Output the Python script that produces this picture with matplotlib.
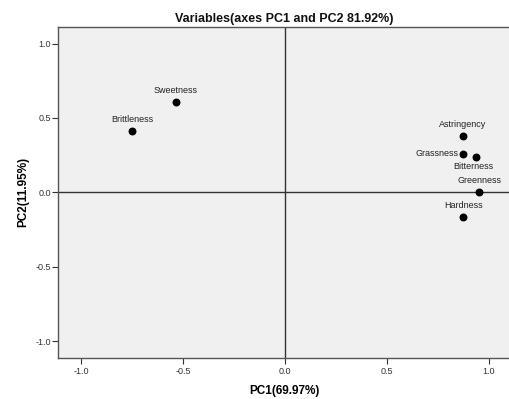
import matplotlib
matplotlib.use("Agg")
import matplotlib.pyplot as plt

plt.rcParams['font.family'] = ['Liberation Sans', 'DejaVu Sans']

# Cargas de las variables en PC1 y PC2
variables = ["Sweetness", "Brittleness", "Astringency", "Grassness",
             "Bitterness", "Greenness", "Hardness"]
pc1 = [-0.537, -0.750, 0.872, 0.872, 0.937, 0.952, 0.873]
pc2 = [0.605, 0.415, 0.379, 0.258, 0.240, 0.005, -0.166]

ticks = [-1.0, -0.5, 0.0, 0.5, 1.0]
tick_labels = ["-1.0", "-0.5", "0.0", "0.5", "1.0"]

fig = plt.figure(figsize=(5.09, 3.99), dpi=100)
fig.patch.set_facecolor('white')
ax = fig.add_axes([0.114, 0.1035, 0.89, 0.8285])
ax.set_facecolor('#f0f0f0')

ax.axhline(0, color='#333333', linewidth=1.0, zorder=1)
ax.axvline(0, color='#333333', linewidth=1.0, zorder=1)

ax.scatter(pc1, pc2, s=22, color='black', zorder=3)

# Posición de cada etiqueta respecto al punto (en puntos tipográficos)
offsets = {
    "Grassness": (-3, 0, 'right', 'center'),
    "Bitterness": (-2, -4, 'center', 'top'),
}
for nombre, x, y in zip(variables, pc1, pc2):
    dx, dy, ha, va = offsets.get(nombre, (0, 5, 'center', 'bottom'))
    ax.annotate(nombre, (x, y), xytext=(dx, dy), textcoords='offset points',
                ha=ha, va=va, fontsize=6.5, color='#222222')

ax.set_xlim(-1.113, 1.108)
ax.set_ylim(-1.11, 1.11)
ax.set_xticks(ticks)
ax.set_xticklabels(tick_labels)
ax.set_yticks(ticks)
ax.set_yticklabels(tick_labels)
ax.tick_params(direction='out', length=4, width=0.8, labelsize=6.5,
               colors='#333333', pad=1)
ax.tick_params(axis='x', pad=3)

for lado in ax.spines.values():
    lado.set_color('#555555')
    lado.set_linewidth(1.0)

ax.set_title("Variables(axes PC1 and PC2 81.92%)", fontsize=9,
             fontweight='bold', color='#111111', pad=4)
ax.set_xlabel("PC1(69.97%)", fontsize=8.5, fontweight='bold', labelpad=6)
ax.set_ylabel("PC2(11.95%)", fontsize=8.5, fontweight='bold', labelpad=4.5)

fig.savefig("out.png", dpi=100)
